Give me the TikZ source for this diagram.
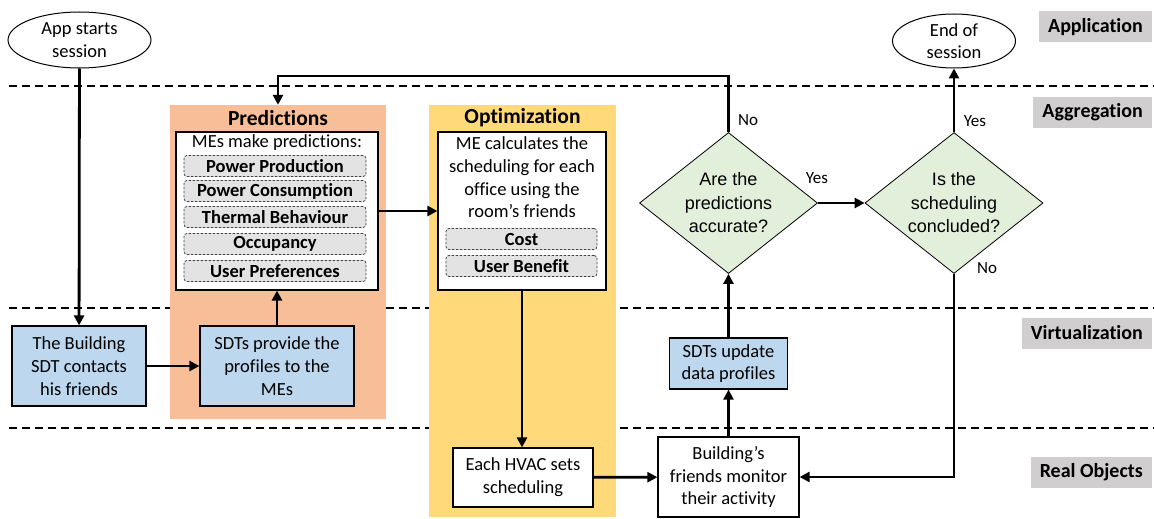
\documentclass[tikz,border=0pt]{standalone}
\usepackage{fontspec}
\setmainfont{Carlito}[Ligatures={NoCommon}]
\newfontfamily\arialf{Liberation Sans}
\usetikzlibrary{arrows.meta,shapes.geometric,calc}
\definecolor{predfill}{HTML}{F7BE98}
\definecolor{optfill}{HTML}{FFD97A}
\definecolor{sdtblue}{HTML}{BDD7EE}
\definecolor{decgreen}{HTML}{E2EFDA}
\definecolor{itemgray}{HTML}{E4E3E3}
\definecolor{layergray}{HTML}{D0CECE}
\begin{document}
\begin{tikzpicture}[x=1pt,y=-1pt,
  txt/.style={font=\fontsize{18.5}{22.7}\selectfont, align=center},
  proc/.style={txt, draw=black, line width=1.2pt, inner sep=0pt},
  sdt/.style={proc, fill=sdtblue},
  plain/.style={proc, fill=white},
  item/.style={draw=black!75, dash pattern=on 2.5pt off 1.5pt, line width=0.8pt,
    rounded corners=3pt, fill=itemgray, inner sep=0pt,
    font=\bfseries\fontsize{18.5}{20}\selectfont},
  panel/.style={inner sep=0pt, draw=none},
  ptitle/.style={font=\bfseries\fontsize{21.5}{24}\selectfont},
  layer/.style={fill=layergray, font=\bfseries\fontsize{20}{24}\selectfont,
    inner xsep=9pt, inner ysep=0pt, minimum height=31, anchor=east},
  sess/.style={ellipse, draw=black, line width=1pt, inner sep=0pt},
  dec/.style={diamond, draw=black, line width=0.8pt, fill=decgreen,
    font=\arialf\fontsize{18}{23.5}\selectfont, align=center, inner sep=0pt,
    aspect=1.26, minimum width=178, minimum height=141},
  flow/.style={line width=2.8pt, -{Triangle[length=10pt,width=10pt]}},
  tag/.style={font=\fontsize{17}{20}\selectfont},
  layerline/.style={line width=1.4pt, dash pattern=on 8pt off 5pt}
]
\useasboundingbox (0,0) rectangle (1154,519);

% layer separators
\draw[layerline] (9,86) -- (1154,86);
\draw[layerline] (9,308) -- (1154,308);
\draw[layerline] (9,428) -- (1154,428);

% layer names
\node[layer] (lapp) at (1152,27) {Application};
\node[layer] (lagg) at (1152,112) {Aggregation};
\node[layer] (lvir) at (1152,333) {Virtualization};
\node[layer] (lreal) at (1152,472) {Real Objects};

% coloured stages
\node[panel, fill=predfill, minimum width=216, minimum height=314] (pred) at (278,262) {};
\node[panel, fill=optfill, minimum width=187, minimum height=412] (opt) at (522.5,311) {};
\node[ptitle] (predt) at (278,118) {Predictions};
\node[ptitle] (optt) at (522.5,118) {Optimization};

% prediction box
\node[plain, minimum width=202, minimum height=158] (predbox) at (277,211) {};
\node[txt] (predhead) at (277,143) {MEs make predictions:};
\node[item, minimum width=182, minimum height=21] (ipp) at (275,166) {Power Production};
\node[item, minimum width=182, minimum height=21] (ipc) at (275,191) {Power Consumption};
\node[item, minimum width=182, minimum height=21] (itb) at (275,217) {Thermal Behaviour};
\node[item, minimum width=182, minimum height=21] (ioc) at (275,244) {Occupancy};
\node[item, minimum width=182, minimum height=21] (iup) at (275,271) {User Preferences};

% optimization box
\node[plain, minimum width=168, minimum height=158] (optbox) at (522,211) {};
\node[txt] (opthead) at (522,177.5) {ME calculates the\\scheduling for each\\office using the\\room’s friends};
\node[item, minimum width=151, minimum height=21] (icost) at (521.5,239) {Cost};
\node[item, minimum width=151, minimum height=21] (iben) at (521.5,266) {User Benefit};

% sessions
\node[sess, minimum width=143, minimum height=56] (start) at (79.5,40) {};
\node[txt] (startt) at (start) {App starts\\session};
\node[sess, minimum width=123, minimum height=54] (end) at (954,41) {};
\node[txt] (endt) at (end) {End of\\session};

% process boxes
\node[sdt, minimum width=134, minimum height=80] (build) at (79,366) {The Building\\SDT contacts\\his friends};
\node[sdt, minimum width=154, minimum height=80] (sdtp) at (277,366) {SDTs provide the\\profiles to the\\MEs};
\node[plain, minimum width=140, minimum height=59] (hvac) at (523,477.5) {Each HVAC sets\\scheduling};
\node[plain, minimum width=141, minimum height=80] (friends) at (728.5,477) {Building’s\\friends monitor\\their activity};
\node[sdt, minimum width=118, minimum height=51] (upd) at (728.5,363.5) {SDTs update\\data profiles};

% decisions
\node[dec] (d1) at (728.5,203) {Are the\\predictions\\accurate?};
\node[dec] (d2) at (954,203) {Is the\\scheduling\\concluded?};

% flow
\draw[flow] (start) -- (build);
\draw[flow] (build) -- (sdtp);
\draw[flow] (sdtp) -- (predbox);
\draw[flow] (predbox) -- (optbox);
\draw[flow] (optbox.south) -- (optbox.south |- hvac.north);
\draw[flow] (hvac) -- (friends);
\draw[flow] (friends) -- (upd);
\draw[flow] (upd) -- (d1);
\draw[flow] (d1.north) -- (d1.north |- 0,76) -| (pred.north);
\draw[flow] (d1) -- (d2);
\draw[flow] (d2.north) -- (end.south);
\draw[flow] (d2.south) |- (friends.east);

% decision outcomes
\node[tag] (no1) at (748,120) {No};
\node[tag] (yes1) at (817,178) {Yes};
\node[tag] (yes2) at (975,121) {Yes};
\node[tag] (no2) at (987,268) {No};
\end{tikzpicture}
\end{document}
